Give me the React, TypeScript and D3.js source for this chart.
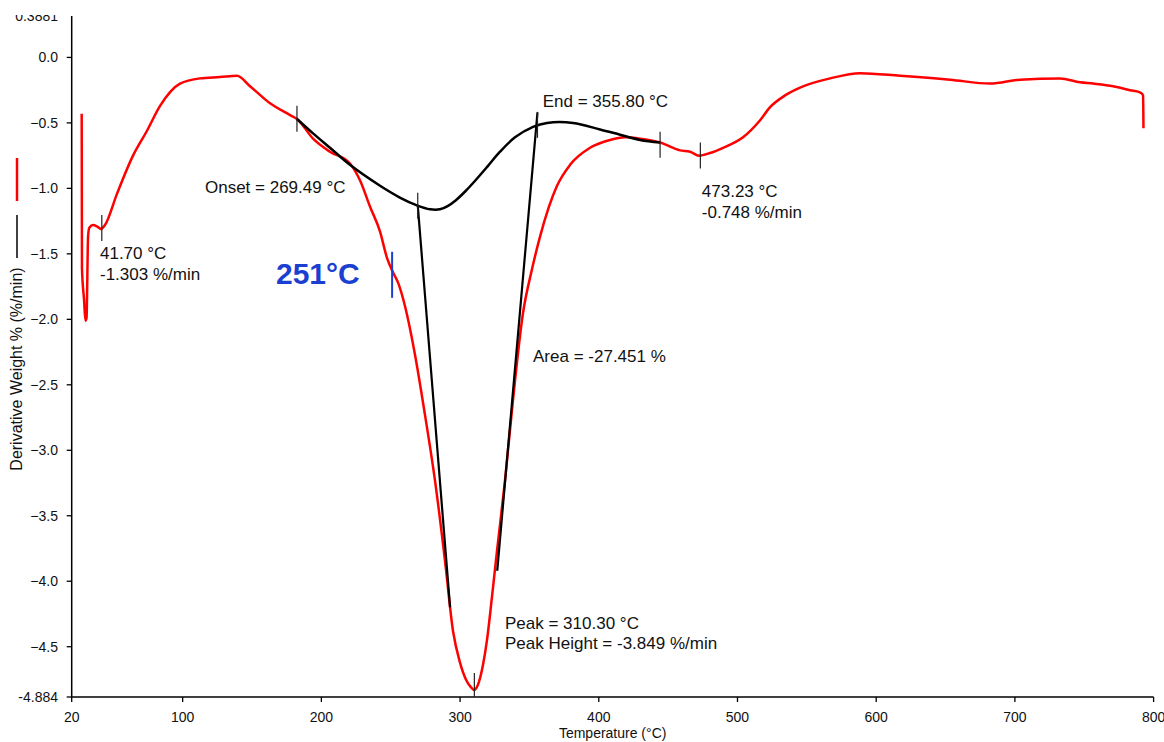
import React from "react";
import * as d3 from "d3";

// ---- Data ----
const redTemp = [
  27.2, 27.4, 28.9, 29.9, 30.7, 31.8, 32.7, 35.4, 38.2, 41.1, 44.0, 52.7, 64.2, 74.3, 83.7, 98.1,
  112.5, 126.9, 139.2, 148.6, 163.0, 177.4, 182.4, 194.0, 206.2, 220.6, 227.9, 235.1, 242.3, 247.3,
  251.6, 255.3, 260.3, 267.5, 274.7, 281.9, 289.1, 294.9, 299.9, 304.2, 307.9, 310.0, 312.9, 316.5,
  319.4, 323.0, 326.6, 332.4, 338.1, 345.4, 351.8, 357.6, 369.9, 379.3, 393.7, 408.1, 418.9, 429.8,
  444.2, 458.6, 465.8, 472.3, 480.2, 489.6, 504.0, 516.3, 523.5, 534.3, 545.1, 566.8, 588.4, 617.2,
  653.3, 682.1, 703.7, 732.6, 747.0, 756.4, 770.8, 783.0, 790.9, 792.4, 792.7,
];
const redDeriv = [
  -0.43, -1.61, -1.85, -2.01, -1.99, -1.37, -1.30, -1.28, -1.29, -1.31, -1.28, -1.04, -0.75, -0.56,
  -0.37, -0.20, -0.16, -0.15, -0.14, -0.22, -0.35, -0.44, -0.47, -0.62, -0.72, -0.81, -0.94, -1.14,
  -1.33, -1.53, -1.64, -1.72, -1.90, -2.27, -2.73, -3.23, -3.84, -4.38, -4.62, -4.75, -4.81, -4.83,
  -4.79, -4.64, -4.45, -4.12, -3.77, -3.23, -2.62, -1.95, -1.62, -1.37, -0.98, -0.82, -0.69, -0.63,
  -0.61, -0.62, -0.65, -0.71, -0.72, -0.75, -0.73, -0.69, -0.61, -0.48, -0.38, -0.29, -0.23, -0.16,
  -0.12, -0.14, -0.17, -0.20, -0.17, -0.16, -0.19, -0.20, -0.22, -0.25, -0.27, -0.29, -0.54,
];

const baseTemp = [
  182.4, 194.0, 206.2, 220.6, 242.3, 256.6, 268.9, 278.3, 285.5, 291.0, 297.0, 304.0, 311.0, 320.0,
  328.8, 339.6, 352.6, 362.7, 381.4, 400.9, 415.3, 429.8, 444.2,
];
const baseDeriv = [
  -0.47, -0.58, -0.69, -0.82, -0.98, -1.07, -1.13, -1.16, -1.16, -1.135, -1.09, -1.02, -0.94, -0.83,
  -0.72, -0.61, -0.53, -0.50, -0.50, -0.55, -0.59, -0.63, -0.65,
];

const leftTangentTemp = [269.49, 292.8];
const leftTangentDeriv = [-1.13, -4.2];
const rightTangentTemp = [355.8, 326.8];
const rightTangentDeriv = [-0.42, -3.92];

const markerTemps = [41.7, 182.4, 269.49, 355.8, 444.2, 473.23];
const markerDerivs = [-1.303, -0.468, -1.133, -0.515, -0.667, -0.748];
const peakTemp = 310.3;
const peakDeriv = -4.83;
const highlightTemp = 251;
const highlightDeriv = -1.66;

const xTicks = [20, 100, 200, 300, 400, 500, 600, 700, 800];
const yTicks = [0, -0.5, -1, -1.5, -2, -2.5, -3, -3.5, -4, -4.5];
const yMin = -4.884;
const yMax = 0.3881;

const annotations = [
  { t: 40.4, v: -1.54, lines: ["41.70 °C", "-1.303 %/min"] },
  { t: 116.1, v: -1.035, lines: ["Onset = 269.49 °C"] },
  { t: 359.6, v: -0.378, lines: ["End = 355.80 °C"] },
  { t: 352.6, v: -2.327, lines: ["Area = -27.451 %"] },
  { t: 332.4, v: -4.361, lines: ["Peak = 310.30 °C", "Peak Height = -3.849 %/min"] },
  { t: 474.3, v: -1.067, lines: ["473.23 °C", "-0.748 %/min"] },
];

const W = 1164;
const H = 742;
const FONT = "'Liberation Sans', Arial, sans-serif";

export default function App() {
  const x = d3.scaleLinear().domain([20, 800]).range([71.7, 1153.6]);
  const y = d3.scaleLinear().domain([yMin, yMax]).range([697, 6.6]);
  const axisTop = 16;

  const zip = (a: number[], b: number[]) => a.map((t, i) => [t, b[i]] as [number, number]);
  const redLine = d3
    .line<[number, number]>()
    .x((d) => x(d[0]))
    .y((d) => y(d[1]))
    .curve(d3.curveMonotoneX);
  const baseLine = d3
    .line<[number, number]>()
    .x((d) => x(d[0]))
    .y((d) => y(d[1]))
    .curve(d3.curveCatmullRom.alpha(0.5));
  const straight = d3
    .line<[number, number]>()
    .x((d) => x(d[0]))
    .y((d) => y(d[1]));

  const redPath = redLine(zip(redTemp, redDeriv)) || "";
  const basePath = baseLine(zip(baseTemp, baseDeriv)) || "";
  const leftPath = straight(zip(leftTangentTemp, leftTangentDeriv)) || "";
  const rightPath = straight(zip(rightTangentTemp, rightTangentDeriv)) || "";

  const x0 = x(20);
  const yBottom = y(yMin);

  return (
    <svg
      width={W}
      height={H}
      style={{ position: "absolute", left: 0, top: 0, background: "#fff" }}
      fontFamily={FONT}
    >
      <defs>
        <clipPath id="topclip">
          <rect x={0} y={15} width={70} height={20} />
        </clipPath>
      </defs>
      <rect x={0} y={0} width={W} height={H} fill="#fff" />

      {/* axes */}
      <line x1={x0} y1={axisTop} x2={x0} y2={yBottom} stroke="#000" strokeWidth={1.5} />
      <line x1={x0} y1={yBottom} x2={x(800)} y2={yBottom} stroke="#000" strokeWidth={1.5} />

      {yTicks.map((v) => (
        <g key={"yt" + v}>
          <line x1={x0 - 5} x2={x0} y1={y(v)} y2={y(v)} stroke="#000" strokeWidth={1.3} />
          <text x={58} y={y(v)} dy="0.35em" textAnchor="end" fontSize={14} fill="#111">
            {d3.format(".1f")(v)}
          </text>
        </g>
      ))}
      <line x1={x0 - 5} x2={x0} y1={yBottom} y2={yBottom} stroke="#000" strokeWidth={1.3} />
      <text x={58} y={yBottom} dy="0.35em" textAnchor="end" fontSize={14} fill="#111">
        {String(yMin)}
      </text>
      <text x={58} y={20.5} textAnchor="end" fontSize={14} fill="#111" clipPath="url(#topclip)">
        {String(yMax)}
      </text>

      {xTicks.map((t) => (
        <g key={"xt" + t}>
          <line x1={x(t)} x2={x(t)} y1={yBottom} y2={yBottom + 5} stroke="#000" strokeWidth={1.3} />
          <text x={x(t)} y={722} textAnchor="middle" fontSize={14} fill="#111">
            {t}
          </text>
        </g>
      ))}

      <text x={(x(20) + x(800)) / 2} y={738} textAnchor="middle" fontSize={14} fill="#111">
        Temperature (°C)
      </text>

      {/* y title with legend swatches */}
      <text
        transform={`translate(22,369) rotate(-90)`}
        textAnchor="middle"
        fontSize={16}
        fill="#111"
      >
        Derivative Weight % (%/min)
      </text>
      <line x1={17} x2={17} y1={215} y2={258} stroke="#000" strokeWidth={1.5} />
      <line x1={17} x2={17} y1={158} y2={201} stroke="#ff0000" strokeWidth={2.5} />

      {/* curves */}
      <path d={redPath} fill="none" stroke="#ff0000" strokeWidth={2.5} strokeLinejoin="round" />
      <path d={basePath} fill="none" stroke="#000" strokeWidth={2.5} strokeLinejoin="round" />
      <path d={leftPath} fill="none" stroke="#000" strokeWidth={2.2} />
      <path d={rightPath} fill="none" stroke="#000" strokeWidth={2.2} />

      {/* cursor marks */}
      {markerTemps.map((t, i) => (
        <line
          key={"m" + i}
          x1={x(t)}
          x2={x(t)}
          y1={y(markerDerivs[i]) - 13}
          y2={y(markerDerivs[i]) + 13}
          stroke="#222"
          strokeWidth={1.2}
        />
      ))}
      <line
        x1={x(peakTemp)}
        x2={x(peakTemp)}
        y1={y(peakDeriv) - 17}
        y2={yBottom}
        stroke="#222"
        strokeWidth={1.2}
      />

      {/* highlighted 251 °C */}
      <line
        x1={x(highlightTemp)}
        x2={x(highlightTemp)}
        y1={y(highlightDeriv) - 23}
        y2={y(highlightDeriv) + 23}
        stroke="#1a3fd1"
        strokeWidth={2}
      />
      <text x={276} y={284} fontSize={30} fontWeight="bold" fill="#1a3fd1" fontFamily={FONT}>
        251°C
      </text>

      {/* annotations */}
      {annotations.map((a, i) => (
        <text key={"a" + i} x={x(a.t)} y={y(a.v)} fontSize={17} fill="#111">
          {a.lines.map((l, j) => (
            <tspan key={j} x={x(a.t)} dy={j === 0 ? 0 : 20.5}>
              {l}
            </tspan>
          ))}
        </text>
      ))}
    </svg>
  );
}
